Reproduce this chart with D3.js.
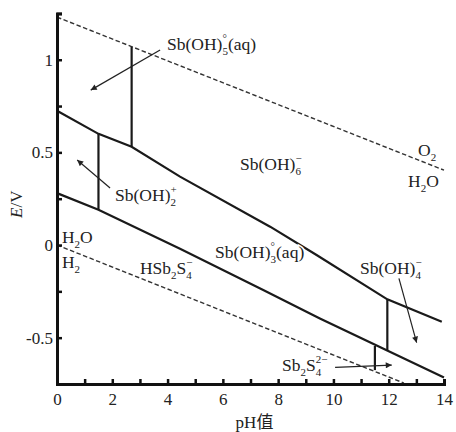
<!DOCTYPE html>
<html>
<head>
<meta charset="utf-8">
<script src="https://cdn.jsdelivr.net/npm/d3@7"></script>
<style>
  html, body { margin: 0; padding: 0; background: #fff; overflow: hidden; }
  svg { display: block; }
  text { font-family: "Liberation Serif", "Noto Sans CJK SC", serif; fill: #222; }
</style>
</head>
<body>
<div id="chart-area"></div>
<script>
// Potential–pH (Pourbaix) diagram, Sb–S–H2O

// boundary lines, [pH, E/V]
const o2Line = [[0, 1.23], [14, 0.404]];
const h2Line = [[0, 0], [12.55, -0.745]];
const upperLine = [[0, 0.725], [1.5, 0.60], [2.7, 0.53], [4.45, 0.369], [7.71, 0.099],
  [9.39, -0.054], [11.95, -0.293], [13.92, -0.414]];
const lowerLine = [[0, 0.28], [1.5, 0.19], [4.45, -0.02], [7.46, -0.243], [9.51, -0.396], [14, -0.715]];

// vertical boundaries: pH, from E, to E
const verticals = [
  [1.5, 0.19, 0.60],
  [2.7, 0.53, 1.07],
  [11.95, -0.567, -0.293],
  [11.5, -0.675, -0.545],
];

// ticks
const xTicks = d3.range(0, 15, 1);
const xTickLabels = [0, 2, 4, 6, 8, 10, 12, 14];
const yTicks = [-0.5, -0.25, 0, 0.25, 0.5, 0.75, 1, 1.25];
const yTickLabels = [-0.5, 0, 0.5, 1];

// species labels: parts are [text, sub, sup]
const labels = [
  { parts: [['Sb(OH)', '5', '°'], ['(aq)']], pH: 3.98, E: 1.055 },
  { parts: [['Sb(OH)', '6', '−']], pH: 6.62, E: 0.405 },
  { parts: [['O', '2']], pH: 13.06, E: 0.48 },
  { parts: [['H', '2'], ['O']], pH: 12.7, E: 0.315 },
  { parts: [['Sb(OH)', '2', '+']], pH: 2.1, E: 0.237 },
  { parts: [['H', '2'], ['O']], pH: 0.18, E: 0.01 },
  { parts: [['H', '2']], pH: 0.18, E: -0.124 },
  { parts: [['HSb', '2'], ['S', '4', '−']], pH: 3.0, E: -0.157 },
  { parts: [['Sb(OH)', '3', '°'], ['(aq)']], pH: 5.72, E: -0.07 },
  { parts: [['Sb(OH)', '4', '−']], pH: 10.96, E: -0.157 },
  { parts: [['Sb', '2'], ['S', '4', '2−']], pH: 8.14, E: -0.68 },
];

// arrows, [from pH, from E, to pH, to E]
const arrows = [
  [3.73, 1.052, 1.22, 0.836],
  [1.92, 0.308, 0.73, 0.459],
  [12.37, -0.18, 13.01, -0.527],
  [10.06, -0.66, 12.11, -0.648],
];

const width = 456;
const height = 432;
const margin = { top: 13.4, right: 12, bottom: 48, left: 57 };
const innerWidth = width - margin.left - margin.right;
const innerHeight = height - margin.top - margin.bottom;

const svg = d3.select('#chart-area')
  .append('svg')
  .attr('width', width)
  .attr('height', height);

svg.append('defs').append('marker')
  .attr('id', 'head')
  .attr('viewBox', '0 0 10 10')
  .attr('refX', 10)
  .attr('refY', 5)
  .attr('markerWidth', 9)
  .attr('markerHeight', 6)
  .attr('markerUnits', 'userSpaceOnUse')
  .attr('orient', 'auto')
  .append('path')
  .attr('d', 'M0,0L10,5L0,10Z')
  .attr('fill', '#222');

const g = svg.append('g')
  .attr('transform', `translate(${margin.left}, ${margin.top})`);

const x = d3.scaleLinear().domain([0, 14]).range([0, innerWidth]);
const y = d3.scaleLinear().domain([-0.75, 1.25]).range([innerHeight, 0]);

const line = d3.line().x((d) => x(d[0])).y((d) => y(d[1]));

// water stability lines
g.selectAll('.water')
  .data([o2Line, h2Line])
  .enter()
  .append('path')
  .attr('class', 'water')
  .attr('d', line)
  .attr('fill', 'none')
  .attr('stroke', '#333')
  .attr('stroke-width', 1.4)
  .attr('stroke-dasharray', '4.5,2.5');

// species boundaries
g.selectAll('.bound')
  .data([upperLine, lowerLine])
  .enter()
  .append('path')
  .attr('class', 'bound')
  .attr('d', line)
  .attr('fill', 'none')
  .attr('stroke', '#1a1a1a')
  .attr('stroke-width', 2.2);

g.selectAll('.vert')
  .data(verticals)
  .enter()
  .append('line')
  .attr('x1', (d) => x(d[0]))
  .attr('x2', (d) => x(d[0]))
  .attr('y1', (d) => y(d[1]))
  .attr('y2', (d) => y(d[2]))
  .attr('stroke', '#1a1a1a')
  .attr('stroke-width', 2.2);

// arrows
g.selectAll('.arrow')
  .data(arrows)
  .enter()
  .append('line')
  .attr('x1', (d) => x(d[0]))
  .attr('y1', (d) => y(d[1]))
  .attr('x2', (d) => x(d[2]))
  .attr('y2', (d) => y(d[3]))
  .attr('stroke', '#222')
  .attr('stroke-width', 1.2)
  .attr('marker-end', 'url(#head)');

// species labels: each piece its own text, placed along a running cursor
function piece(parent, str, px, py, size) {
  return parent.append('text')
    .attr('x', px)
    .attr('y', py)
    .attr('font-size', size)
    .attr('stroke', '#fff')
    .attr('stroke-width', 3)
    .attr('paint-order', 'stroke')
    .text(str);
}

labels.forEach((lab) => {
  const lg = g.append('g');
  const y0 = y(lab.E);
  let cx = x(lab.pH);
  lab.parts.forEach(([base, sub, sup]) => {
    cx += piece(lg, base, cx, y0, 17.5).node().getComputedTextLength();
    let w = 0;
    if (sub) w = piece(lg, sub, cx, y0 + 5, 11).node().getComputedTextLength();
    if (sup) w = Math.max(w, piece(lg, sup, cx, y0 - 8, 11).node().getComputedTextLength());
    cx += w;
  });
});

// axes, ticks inside
const xAxis = d3.axisBottom(x)
  .tickValues(xTicks)
  .tickSize(-5)
  .tickFormat((d) => (xTickLabels.includes(d) ? d : ''));
const yAxis = d3.axisLeft(y)
  .tickValues(yTicks)
  .tickSize(-5)
  .tickFormat((d) => (yTickLabels.includes(d) ? d : ''));

const gx = g.append('g')
  .attr('transform', `translate(0, ${innerHeight})`)
  .call(xAxis);
const gy = g.append('g').call(yAxis);

[gx, gy].forEach((ax) => {
  ax.attr('font-family', null).attr('font-size', 17);
  ax.select('.domain').attr('stroke', '#111').attr('stroke-width', 3);
  ax.selectAll('.tick line').attr('stroke', '#111').attr('stroke-width', 2.5);
  ax.selectAll('.tick text')
    .filter(function () { return this.textContent === ''; })
    .remove();
  ax.selectAll('.tick text')
    .style('font-family', '"Liberation Serif", serif')
    .style('font-size', '17px')
    .attr('fill', '#333');
});
gx.selectAll('.tick text').attr('dy', '0.71em').attr('y', 9);
gy.selectAll('.tick text').attr('x', -4);

// axis titles
const yTitle = g.append('text')
  .attr('transform', `translate(${22 - margin.left}, ${y(0.22)}) rotate(-90)`)
  .attr('text-anchor', 'middle')
  .attr('font-size', 17);
yTitle.append('tspan').attr('font-style', 'italic').text('E');
yTitle.append('tspan').text('/V');

g.append('text')
  .attr('x', innerWidth / 2 + 4)
  .attr('y', innerHeight + 44)
  .attr('text-anchor', 'middle')
  .attr('font-size', 17)
  .text('pH值');
</script>
</body>
</html>
